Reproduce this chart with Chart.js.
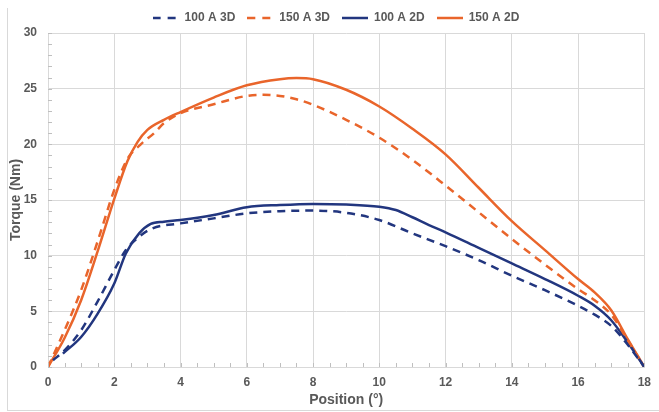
<!DOCTYPE html>
<html>
<head>
<meta charset="utf-8">
<script src="https://cdn.jsdelivr.net/npm/chart.js@4.4.0/dist/chart.umd.min.js"></script>
<style>
    body { margin: 0; background: #fff; }
    #wrap { position: relative; width: 659px; height: 412px; overflow: hidden; }
    #frame { position: absolute; left: 7px; top: 8px; width: 700px; height: 402px;
             border-left: 1px solid #d9d9d9; border-bottom: 1px solid #d9d9d9; }
    #myChart { position: absolute; left: 0; top: 0; }
</style>
</head>
<body>
<div id="wrap">
    <div id="frame"></div>
    <canvas id="myChart" width="659" height="412"></canvas>
</div>
<script>
// tick labels
const xTicks = [0, 2, 4, 6, 8, 10, 12, 14, 16, 18];
const yTicks = [0, 5, 10, 15, 20, 25, 30];

// 100 A 3D (dashed navy)
const pos100_3D = [0.15, 0.5, 1, 1.5, 2, 2.35, 2.75, 3.15, 4, 5, 6, 7, 8, 9, 10, 11, 12, 13, 14, 15, 16, 16.5, 17, 17.5, 18];
const torque100_3D = [0.6, 1.5, 3.3, 5.9, 8.7, 10.5, 11.7, 12.45, 12.9, 13.35, 13.8, 14.0, 14.05, 13.85, 13.2, 12.0, 10.85, 9.6, 8.2, 6.9, 5.5, 4.7, 3.7, 2.0, 0];

// 150 A 3D (dashed orange)
const pos150_3D = [0, 0.5, 1, 1.5, 2, 2.4, 2.8, 3.2, 3.5, 4, 5, 6, 6.5, 7, 7.5, 8, 9, 10, 11, 12, 13, 14, 15, 16, 16.5, 17, 17.5, 18];
const torque150_3D = [0, 3.3, 6.9, 11.3, 15.9, 18.7, 20.0, 21.0, 21.9, 22.8, 23.6, 24.35, 24.45, 24.35, 24.05, 23.55, 22.2, 20.6, 18.6, 16.3, 13.9, 11.5, 9.2, 7.0, 6.0, 4.7, 2.4, 0];

// 100 A 2D (solid navy)
const pos100_2D = [0.45, 1, 1.5, 2, 2.35, 2.75, 3.1, 3.5, 4, 5, 6, 7, 8, 9, 10, 10.5, 11, 11.5, 12, 13, 14, 15, 16, 16.5, 17, 17.5, 18];
const torque100_2D = [1.2, 2.7, 4.8, 7.5, 10.2, 12.0, 12.85, 13.05, 13.2, 13.65, 14.35, 14.55, 14.65, 14.6, 14.4, 14.1, 13.45, 12.75, 12.1, 10.7, 9.3, 7.9, 6.4, 5.5, 4.2, 2.2, 0];

// 150 A 2D (solid orange)
const pos150_2D = [0, 0.5, 1, 1.5, 2, 2.4, 2.7, 3, 3.5, 4, 5, 6, 7, 7.5, 8, 9, 10, 11, 12, 13, 14, 15, 16, 16.5, 17, 17.5, 18];
const torque150_2D = [0, 2.6, 6.0, 10.4, 15.1, 18.5, 20.2, 21.3, 22.2, 22.9, 24.2, 25.3, 25.85, 25.95, 25.85, 24.9, 23.4, 21.4, 19.1, 16.1, 13.1, 10.5, 7.9, 6.7, 5.1, 2.5, 0];

const navy = '#22367f';
const orange = '#e9652b';
const gridColor = '#d9d9d9';
const textColor = '#595959';

function toPoints(xs, ys) {
    return xs.map((x, i) => ({ x: x, y: ys[i] }));
}

// little line sample used as the legend symbol
function legendLine(color, dashed) {
    const c = document.createElement('canvas');
    c.width = 26;
    c.height = 4;
    const g = c.getContext('2d');
    g.strokeStyle = color;
    g.lineWidth = 2.5;
    g.setLineDash(dashed ? [8, 7] : []);
    g.beginPath();
    g.moveTo(0, 2);
    g.lineTo(26, 2);
    g.stroke();
    return c;
}

function makeSet(label, xs, ys, color, dashed) {
    return {
        label: label,
        data: toPoints(xs, ys),
        borderColor: color,
        backgroundColor: color,
        borderWidth: 2.5,
        borderDash: dashed ? [8, 6] : [],
        pointRadius: 0,
        pointStyle: legendLine(color, dashed),
        cubicInterpolationMode: 'monotone',
        fill: false
    };
}

// small inside tick marks like the original
const minorTicks = {
    id: 'minorTicks',
    afterDraw(chart) {
        const { ctx, chartArea, scales: { x, y } } = chart;
        ctx.save();
        ctx.strokeStyle = '#bfbfbf';
        ctx.lineWidth = 1;
        ctx.beginPath();
        for (let v = x.min; v <= x.max + 0.001; v += 0.5) {
            const px = Math.round(x.getPixelForValue(v)) + 0.5;
            ctx.moveTo(px, chartArea.bottom);
            ctx.lineTo(px, chartArea.bottom - 4);
        }
        for (let v = y.min; v <= y.max + 0.001; v += 1) {
            const py = Math.round(y.getPixelForValue(v)) + 0.5;
            ctx.moveTo(chartArea.left, py);
            ctx.lineTo(chartArea.left + 4, py);
        }
        ctx.stroke();
        ctx.restore();
    }
};

// fixed legend height and a small shift to the right
const legendBox = {
    id: 'legendBox',
    beforeInit(chart) {
        const lg = chart.legend;
        const fit = lg.fit.bind(lg);
        lg.fit = function () {
            fit();
            this.height = 33;
        };
    },
    afterLayout(chart) {
        chart.legend.left += 10;
        chart.legend.right += 10;
    }
};

Chart.defaults.font.family = "'Liberation Sans', Arial, sans-serif";
Chart.defaults.font.weight = 'bold';
Chart.defaults.color = textColor;

const ctx = document.getElementById('myChart').getContext('2d');
const myChart = new Chart(ctx, {
    type: 'line',
    data: {
        datasets: [
            makeSet('100 A 3D', pos100_3D, torque100_3D, navy, true),
            makeSet('150 A 3D', pos150_3D, torque150_3D, orange, true),
            makeSet('100 A 2D', pos100_2D, torque100_2D, navy, false),
            makeSet('150 A 2D', pos150_2D, torque150_2D, orange, false)
        ]
    },
    options: {
        responsive: false,
        animation: false,
        devicePixelRatio: 1,
        layout: { padding: { top: 0, right: 7, bottom: 0, left: 0 } },
        plugins: {
            legend: {
                position: 'top',
                labels: {
                    usePointStyle: true,
                    pointStyleWidth: 26,
                    boxWidth: 26,
                    padding: 12,
                    color: textColor,
                    font: { size: 12, weight: 'bold' }
                }
            },
            tooltip: { enabled: false }
        },
        scales: {
            x: {
                type: 'linear',
                min: xTicks[0],
                max: xTicks[xTicks.length - 1],
                afterFit(scale) { scale.height = 45; },
                afterBuildTicks(scale) { scale.ticks = xTicks.map(v => ({ value: v })); },
                grid: { color: gridColor, drawTicks: false },
                border: { color: gridColor },
                ticks: { padding: 8, color: textColor, font: { size: 12, weight: 'bold' } },
                title: {
                    display: true,
                    text: 'Position (°)',
                    color: textColor,
                    font: { size: 14, weight: 'bold' },
                    padding: { top: 0, bottom: 3 }
                }
            },
            y: {
                min: yTicks[0],
                max: yTicks[yTicks.length - 1],
                afterFit(scale) { scale.width = 48; },
                afterBuildTicks(scale) { scale.ticks = yTicks.map(v => ({ value: v })); },
                grid: { color: gridColor, drawTicks: false },
                border: { color: gridColor },
                ticks: { padding: 11, color: textColor, font: { size: 12, weight: 'bold' } },
                title: {
                    display: true,
                    text: 'Torque (Nm)',
                    color: textColor,
                    font: { size: 14, weight: 'bold' },
                    padding: { top: 8, bottom: 0 }
                }
            }
        }
    },
    plugins: [minorTicks, legendBox]
});
</script>
</body>
</html>
